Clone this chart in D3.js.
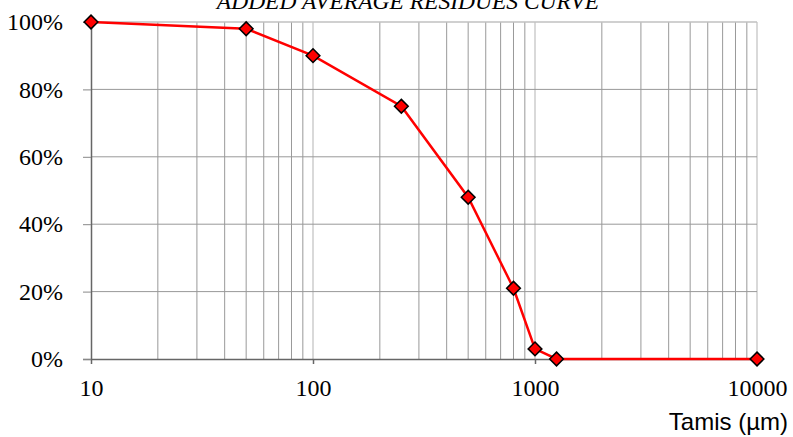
<!DOCTYPE html>
<html>
<head>
<meta charset="utf-8">
<script src="https://cdn.jsdelivr.net/npm/d3@7"></script>
<style>
  body { margin: 0; background: #fff; }
</style>
</head>
<body>
<svg id="chart" width="793" height="437"></svg>
<script>
// sieve size (µm) and cumulative passing
var sizes = [10, 50, 100, 250, 500, 800, 1000, 1250, 10000]
var passing = [1.00, 0.98, 0.90, 0.75, 0.48, 0.21, 0.03, 0.00, 0.00]
var xTicks = [10, 100, 1000, 10000]
var yTicks = [0, 0.2, 0.4, 0.6, 0.8, 1.0]

var dimensions = {
    width: 793,
    height: 437,
    margin: { top: 22, bottom: 78, right: 36, left: 91 }
}

var svg = d3.select("#chart")

var xScale = d3.scaleLog()
    .domain([10, 10000])
    .range([dimensions.margin.left, dimensions.width - dimensions.margin.right])

var yScale = d3.scaleLinear()
    .domain([0, 1])
    .range([dimensions.height - dimensions.margin.bottom, dimensions.margin.top])

// minor vertical grid
var minor = []
for (var dec = 10; dec < 10000; dec *= 10) {
    for (var k = 2; k <= 9; k++) minor.push(dec * k)
}

var grid = svg.append("g")
grid.selectAll(".minor")
    .data(minor)
    .enter()
    .append("line")
    .attr("x1", d => xScale(d)).attr("x2", d => xScale(d))
    .attr("y1", yScale(0)).attr("y2", yScale(1))
    .attr("stroke", "#999").attr("stroke-width", 1)

grid.selectAll(".major")
    .data([100, 1000, 10000])
    .enter()
    .append("line")
    .attr("x1", d => xScale(d)).attr("x2", d => xScale(d))
    .attr("y1", yScale(0)).attr("y2", yScale(1))
    .attr("stroke", "#ccc").attr("stroke-width", 1.5)

grid.selectAll(".hgrid")
    .data(yTicks.slice(1))
    .enter()
    .append("line")
    .attr("x1", xScale(10)).attr("x2", xScale(10000))
    .attr("y1", d => yScale(d)).attr("y2", d => yScale(d))
    .attr("stroke", d => d == 1 ? "#c0c0c0" : "#999").attr("stroke-width", d => d == 1 ? 1.5 : 1)

// axes
var xAxisGen = d3.axisBottom(xScale).tickValues(xTicks).tickFormat(d3.format("d")).tickSize(5).tickPadding(15)
var xAxis = svg.append("g")
    .attr("transform", `translate(0,${yScale(0)})`)
    .call(xAxisGen)
xAxis.select(".domain").attr("stroke", "#666").attr("stroke-width", 1.5)
    .attr("d", `M${xScale(10) - 8},0.5H${xScale(10000)}`)
xAxis.selectAll(".tick line").attr("stroke", "#666").attr("stroke-width", 1.5)
xAxis.selectAll(".tick text")
    .style("font-family", "'Liberation Serif', 'Times New Roman', serif")
    .style("font-size", "24px").attr("fill", "#000")

var yAxisGen = d3.axisLeft(yScale).tickValues(yTicks).tickFormat(d3.format(".0%")).tickSize(8).tickPadding(20)
var yAxis = svg.append("g")
    .attr("transform", `translate(${xScale(10)},0)`)
    .call(yAxisGen)
yAxis.select(".domain").attr("stroke", "#666").attr("stroke-width", 1.5)
    .attr("d", `M0.5,${yScale(0)}V${yScale(1)}`)
yAxis.selectAll(".tick line").attr("stroke", "#888").attr("stroke-width", 1)
yAxis.selectAll(".tick text")
    .style("font-family", "'Liberation Serif', 'Times New Roman', serif")
    .style("font-size", "24px").attr("fill", "#000")

// series
var points = sizes.map((s, i) => [s, passing[i]])

svg.append("path")
    .datum(points)
    .attr("fill", "none")
    .attr("stroke", "#ff0000")
    .attr("stroke-width", 2.5)
    .attr("d", d3.line().x(d => xScale(d[0])).y(d => yScale(d[1])))

svg.append("g")
    .selectAll("path")
    .data(points)
    .enter()
    .append("path")
    .attr("d", d3.symbol().type(d3.symbolDiamond2).size(120))
    .attr("transform", d => `translate(${xScale(d[0])},${yScale(d[1])})`)
    .attr("fill", "#ff0000")
    .attr("stroke", "#000")
    .attr("stroke-width", 1.5)

// titles (the reference shows the title clipped at the top edge)
svg.append("text")
    .attr("x", 408)
    .attr("y", 9)
    .attr("text-anchor", "middle")
    .style("font-family", "'Liberation Serif', 'Times New Roman', serif")
    .style("font-style", "italic")
    .style("font-size", "23.5px")
    .text("ADDED AVERAGE RESIDUES CURVE")

svg.append("text")
    .attr("x", 788)
    .attr("y", 430)
    .attr("text-anchor", "end")
    .style("font-family", "'Liberation Sans', Arial, sans-serif")
    .style("font-size", "24px")
    .text("Tamis (µm)")
</script>
</body>
</html>
